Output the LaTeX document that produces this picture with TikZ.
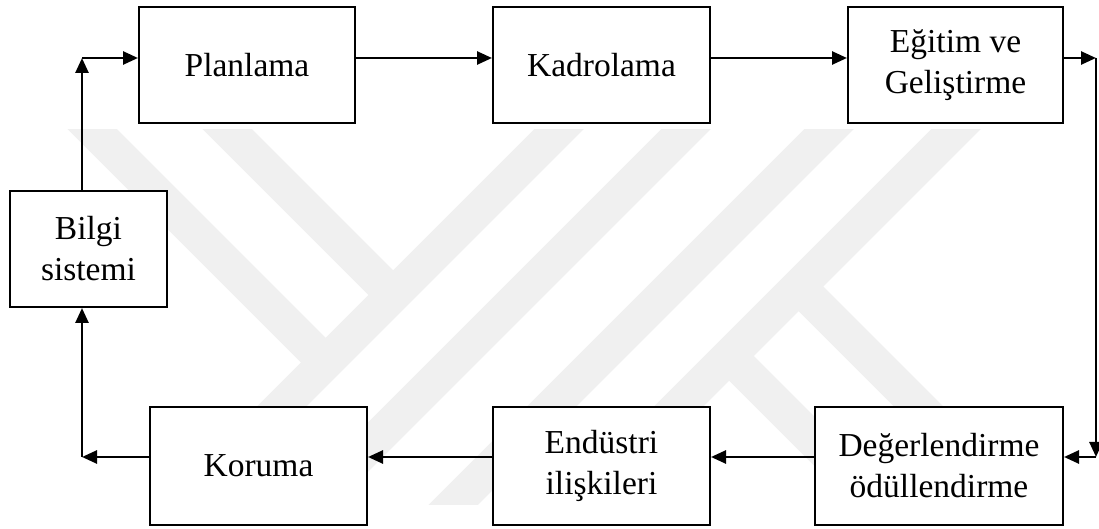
\documentclass[tikz,border=0pt]{standalone}
\usepackage{fontspec}
\setmainfont{Liberation Serif}
\usetikzlibrary{arrows.meta}

\begin{document}
\begin{tikzpicture}[x=0.5pt,y=-0.5pt,
  box/.style={draw,line width=1pt,fill=white,align=center,inner sep=0pt,minimum height=58pt,font=\fontsize{16.75}{20.5}\selectfont},
  arr/.style={line width=1.3pt,-{Triangle[length=7.5pt,width=6.5pt]}},
  band/.style={line width=17.5pt,black!6}]
\useasboundingbox (0,0) rectangle (1099,529);
% watermark
\begin{scope}
  \clip (60,130) rectangle (1000,505);
  \draw[band] (63,100) -- (325.5,362.5);
  \draw[band] (198,100) -- (393,295);
  \draw[band] (588,100) -- (148,540);
  \draw[band] (715,100) -- (275,540);
  \draw[band] (858,100) -- (418,540);
  \draw[band] (985,100) -- (545,540);
  \draw[band] (798.5,286.5) -- (1100,588);
  \draw[band] (729,356) -- (1100,727);
\end{scope}

\node[box,minimum width=108pt] (plan) at (247,65) {Planlama};
\node[box,minimum width=108.5pt] (kadro) at (601.5,65) {Kadrolama};
\node[box,minimum width=107.5pt] (egitim) at (955.5,65) {Eğitim ve\\Geliştirme};
\node[box,minimum width=78.5pt] (bilgi) at (88.5,249) {Bilgi\\sistemi};
\node[box,minimum width=108.5pt,minimum height=59pt] (koruma) at (258.5,466) {Koruma};
\node[box,minimum width=108.5pt,minimum height=59pt] (endustri) at (601.5,466) {Endüstri\\ilişkileri};
\node[box,minimum width=124pt,minimum height=59pt] (deger) at (939,466) {Değerlendirme\\ödüllendirme};

\coordinate (tl) at (82,58);
\coordinate (tr) at (1096,58);
\coordinate (br) at (1096,457);
\coordinate (bl) at (82,457);

\draw[arr] (bilgi.north -| tl) -- (tl);
\draw[arr] (tl) -- (plan.west |- tl);
\draw[arr] (plan.east |- tl) -- (kadro.west |- tl);
\draw[arr] (kadro.east |- tl) -- (egitim.west |- tl);
\draw[arr] (egitim.east |- tl) -- (tr);
\draw[arr] (tr) -- (br);
\draw[arr] (br) -- (deger.east |- br);
\draw[arr] (deger.west |- br) -- (endustri.east |- br);
\draw[arr] (endustri.west |- br) -- (koruma.east |- br);
\draw[arr] (koruma.west |- br) -- (bl);
\draw[arr] (bl) -- (bilgi.south -| bl);
\end{tikzpicture}
\end{document}
